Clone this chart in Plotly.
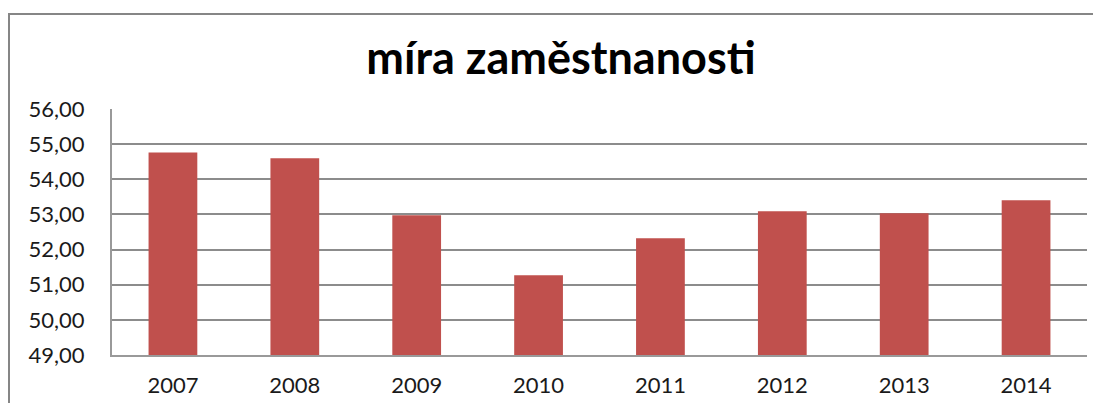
import plotly.graph_objects as go

years = ["2007", "2008", "2009", "2010", "2011", "2012", "2013", "2014"]
rate = [54.76, 54.60, 52.98, 51.27, 52.32, 53.09, 53.03, 53.40]
y_ticks = [49, 50, 51, 52, 53, 54, 55, 56]

# the page body adds an 8px margin, so the figure is drawn 8px smaller
W, H = 1093, 395

fig = go.Figure()
fig.add_trace(go.Bar(x=years, y=rate, marker=dict(color="#C0504D", line=dict(width=0))))

fig.update_layout(
    width=W, height=H,
    margin=dict(l=104, r=14, t=101, b=48, autoexpand=False),
    paper_bgcolor="white", plot_bgcolor="white",
    separators=", ",
    bargap=0.6,
    showlegend=False,
    font=dict(family="Lato, 'Open Sans', sans-serif", color="#1a1a1a"),
    title=dict(text="<b>míra zaměstnanosti</b>", x=553 / W, xanchor="center",
               y=1 - 50 / H, yanchor="middle", font=dict(size=45, color="black")),
    shapes=[dict(type="rect", xref="paper", yref="paper",
                 x0=-103 / 975, x1=1.3, y0=-0.6, y1=1 + 95 / 246,
                 line=dict(color="#868686", width=2), layer="below")],
)
fig.update_xaxes(showgrid=False, showline=True, linecolor="#999999", linewidth=2,
                 ticks="", tickfont=dict(size=22), ticklabelstandoff=10, automargin=False)
fig.update_yaxes(range=[49, 56], tickvals=y_ticks, tickformat=".2f",
                 showgrid=True, gridcolor="#8c8c8c", gridwidth=1.5,
                 showline=True, linecolor="#999999", linewidth=2,
                 ticks="", tickfont=dict(size=22), ticklabelstandoff=21,
                 zeroline=False, automargin=False)

fig.write_html("out.html")
